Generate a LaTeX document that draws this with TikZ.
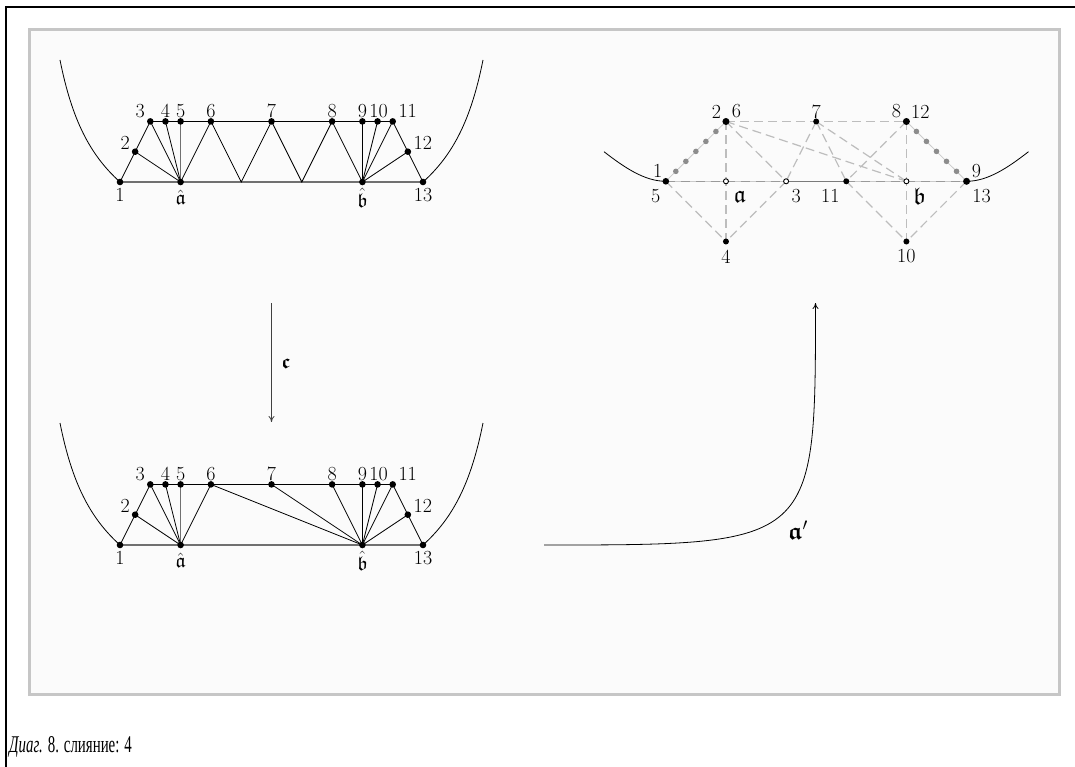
\documentclass[tikz,border=0pt]{standalone}
\usepackage{fontspec}
\usepackage{amssymb}
\usepackage{bm}
\usetikzlibrary{arrows.meta,calc}
\newfontfamily\capfont{Liberation Serif}
\definecolor{boxfill}{HTML}{FBFBFB}
\definecolor{boxgray}{HTML}{C6C6C6}
\definecolor{basegray}{HTML}{707070}
\definecolor{dashgray}{HTML}{BDBDBD}
\definecolor{dotgray}{HTML}{8C8C8C}
\definecolor{lbase}{HTML}{CACACA}
\definecolor{dbase}{HTML}{9A9A9A}
\definecolor{mbase}{HTML}{7A7A7A}
\definecolor{arrgray}{HTML}{404040}
\pgfdeclarelayer{back}
\pgfdeclarelayer{bg}
\pgfsetlayers{back,bg,main}
\newcommand\trussnodes[2]{%
 \begin{scope}[shift={(0,#2)}]
  \node[dot] (#1n1) at (120,182) {};
  \node[dot] (#1n2) at (135.15,151.7) {};
  \node[dot] (#1n3) at (150.3,121.4) {};
  \node[dot] (#1n4) at (165.45,121.4) {};
  \node[dot] (#1n5) at (180.6,121.4) {};
  \node[dot] (#1n6) at (210.9,121.4) {};
  \node[dot] (#1n7) at (271.5,121.4) {};
  \node[dot] (#1n8) at (332.1,121.4) {};
  \node[dot] (#1n9) at (362.4,121.4) {};
  \node[dot] (#1n10) at (377.55,121.4) {};
  \node[dot] (#1n11) at (392.7,121.4) {};
  \node[dot] (#1n12) at (407.85,151.7) {};
  \node[dot] (#1n13) at (423,182) {};
  \node[dot] (#1a) at (180.6,182) {};
  \node[dot] (#1b) at (362.4,182) {};
  \coordinate (#1cl) at (60,60);
  \coordinate (#1cr) at (483,60);
  \node[lab] (#1l1) at ([shift={(0,13)}]#1n1.center) {1};
  \node[lab] (#1l2) at ([shift={(-10,-8.7)}]#1n2.center) {2};
  \node[lab] (#1l3) at ([shift={(-10,-10.5)}]#1n3.center) {3};
  \node[lab] (#1l4) at ([shift={(0,-10.5)}]#1n4.center) {4};
  \node[lab] (#1l5) at ([shift={(0,-10.5)}]#1n5.center) {5};
  \node[lab] (#1l6) at ([shift={(0,-10.5)}]#1n6.center) {6};
  \node[lab] (#1l7) at ([shift={(0,-10.5)}]#1n7.center) {7};
  \node[lab] (#1l8) at ([shift={(0,-10.5)}]#1n8.center) {8};
  \node[lab] (#1l9) at ([shift={(0,-10.5)}]#1n9.center) {9};
  \node[lab] (#1l10) at ([shift={(1,-10.5)}]#1n10.center) {10};
  \node[lab] (#1l11) at ([shift={(15,-10.5)}]#1n11.center) {11};
  \node[lab] (#1l12) at ([shift={(15,-8.7)}]#1n12.center) {12};
  \node[lab] (#1l13) at ([shift={(0,13)}]#1n13.center) {13};
  \node[lab] (#1la) at ([shift={(0,15.5)}]#1a.center) {$\hat{\mathfrak{a}}$};
  \node[lab] (#1lb) at ([shift={(0,15.5)}]#1b.center) {$\hat{\mathfrak{b}}$};
 \end{scope}
 \begin{pgfonlayer}{bg}
  \draw[base] (#1n1.center) -- (#1n13.center);
  \draw[base] (#1n5.center) -- (#1a.center);
  \draw[ln] (#1n1.center) -- (#1n2.center) -- (#1n3.center);
  \draw[ln] (#1n3.center) -- (#1n11.center);
  \draw[ln] (#1n2.center) -- (#1a.center);
  \draw[ln] (#1n3.center) -- (#1a.center);
  \draw[ln] (#1n4.center) -- (#1a.center);
  \draw[ln] (#1n6.center) -- (#1a.center);
  \draw[ln] (#1n8.center) -- (#1b.center);
  \draw[ln] (#1n9.center) -- (#1b.center);
  \draw[ln] (#1n10.center) -- (#1b.center);
  \draw[ln] (#1n11.center) -- (#1b.center);
  \draw[ln] (#1n12.center) -- (#1b.center);
  \draw[ln] (#1n11.center) -- (#1n12.center) -- (#1n13.center);
  \draw[ln] (#1cl) .. controls ($(#1cl)+(12,60)$) and ($(#1cl)+(30,95)$) .. (#1n1.center);
  \draw[ln] (#1cr) .. controls ($(#1cr)+(-12,60)$) and ($(#1cr)+(-30,95)$) .. (#1n13.center);
 \end{pgfonlayer}}
\begin{document}
\begin{tikzpicture}[x=1pt,y=-1pt,
  dot/.style={circle,fill=black,inner sep=0pt,minimum size=6.6pt},
  rdot/.style={circle,draw=black,fill=white,line width=0.9pt,inner sep=0pt,minimum size=5pt},
  lab/.style={inner sep=0pt,font=\fontsize{20}{24}\selectfont},
  biglab/.style={inner sep=0pt,font=\fontsize{24}{28}\selectfont},
  ln/.style={line width=0.8pt,black},
  base/.style={line width=1.5pt,color=basegray},
  dsh/.style={line width=1.2pt,color=dashgray,dash pattern=on 9pt off 5pt},
  arr/.style={line width=0.8pt,color=arrgray,-{To[length=6pt,width=6pt]}}
]
\path[use as bounding box] (0,0) rectangle (1075,767);
\begin{pgfonlayer}{back}
  \fill[white] (0,0) rectangle (1075,767);
  \fill[boxfill] (29.5,29.5) rectangle (1059.5,694.5);
  \draw[boxgray,line width=2.5pt] (29.5,29.5) rectangle (1059.5,694.5);
  \draw[black,line width=2pt] (6,767) -- (6,7) -- (1075,7);
\end{pgfonlayer}

% top-left truss
\trussnodes{t}{0}
\coordinate (tz1) at (241.2,182);
\coordinate (tz2) at (301.8,182);
\begin{pgfonlayer}{bg}
  \draw[ln] (tn6.center) -- (tz1) -- (tn7.center) -- (tz2) -- (tn8.center);
\end{pgfonlayer}

% bottom-left truss
\trussnodes{u}{363}
\begin{pgfonlayer}{bg}
  \draw[ln] (un6.center) -- (ub.center);
  \draw[ln] (un7.center) -- (ub.center);
\end{pgfonlayer}

% arrow c
\coordinate (c1) at (271.5,303);
\coordinate (c2) at (271.5,422);
\draw[arr] (c1) -- (c2);
\node[lab] (lc) at (286,364) {$\bm{\mathfrak{c}}$};

% arrow a'
\coordinate (d1) at (544,545);
\coordinate (d2) at (815.5,303);
\draw[arr,color=black] (d1) .. controls (815.5,545) and (815.5,545) .. (d2);
\node[biglab] (ld) at (798,530) {$\bm{\mathfrak{a}}'$};

% top-right diagram
\node[dot] (p15) at (665.8,181.3) {};
\node[dot,minimum size=7pt] (p26) at (725.95,121.5) {};
\node[dot,minimum size=6pt] (p7) at (816.2,121.5) {};
\node[dot,minimum size=7pt] (p812) at (906.4,121.5) {};
\node[rdot] (pa) at (725.95,181.3) {};
\node[rdot] (p3) at (786.1,181.3) {};
\node[dot,minimum size=6pt] (p11) at (846.25,181.3) {};
\node[rdot] (pb) at (906.4,181.3) {};
\node[dot,minimum size=7pt] (p913) at (966.55,181.3) {};
\node[dot,minimum size=6pt] (p4) at (725.95,241.5) {};
\node[dot,minimum size=6pt] (p10) at (906.4,241.5) {};
\coordinate (pcl) at (604,151.7);
\coordinate (pcr) at (1028.5,151.7);

\begin{pgfonlayer}{bg}
  % baseline
  \draw[line width=1.5pt,lbase] (p15.center) -- (p913.center);
  \draw[line width=1.5pt,dbase,dash pattern=on 9pt off 6pt] (p15.center) -- (pa.center) -- (p3.center);
  \draw[line width=1.5pt,dbase,dash pattern=on 9pt off 6pt] (p11.center) -- (pb.center) -- (p913.center);
  \draw[line width=1.5pt,mbase] (p3.center) -- (p11.center);
  % dashed edges
  \draw[dsh] (p26.center) -- (p7.center) -- (p812.center);
  \draw[dsh] (p26.center) -- (pa.center) -- (p4.center);
  \draw[dsh] (p26.center) -- (p3.center);
  \draw[dsh] (p26.center) -- (pb.center);
  \draw[dsh] (p7.center) -- (p3.center);
  \draw[dsh] (p7.center) -- (p11.center);
  \draw[dsh] (p7.center) -- (pb.center);
  \draw[dsh] (p812.center) -- (pb.center) -- (p10.center);
  \draw[dsh] (p812.center) -- (p11.center);
  \draw[dsh] (p11.center) -- (p10.center);
  \draw[dsh] (p913.center) -- (p10.center);
  \draw[dsh] (p15.center) -- (p4.center);
  \draw[dsh] (p3.center) -- (p4.center);
  % dotted edges
  \draw[line width=0.8pt,lbase] (p15.center) -- (p26.center);
  \draw[line width=0.8pt,lbase] (p812.center) -- (p913.center);
  \foreach \t in {1,...,5} {
    \fill[dotgray] ($(p15.center)!\t/6!(p26.center)$) circle (2.8pt);
    \fill[dotgray] ($(p812.center)!\t/6!(p913.center)$) circle (2.8pt);
  }
  % curves
  \draw[ln] (pcl) .. controls (625,168) and (645,181.3) .. (p15.center);
  \draw[ln] (pcr) .. controls (1007.5,168) and (987.5,181.3) .. (p913.center);
\end{pgfonlayer}

\node[lab] (q1) at ([shift={(-8,-10)}]p15.center) {1};
\node[lab] (q5) at ([shift={(-10,15)}]p15.center) {5};
\node[lab] (q2) at ([shift={(-9.5,-10)}]p26.center) {2};
\node[lab] (q6) at ([shift={(10.5,-10)}]p26.center) {6};
\node[lab] (q7) at ([shift={(0,-10)}]p7.center) {7};
\node[lab] (q8) at ([shift={(-10,-10)}]p812.center) {8};
\node[lab] (q12) at ([shift={(14,-10)}]p812.center) {12};
\node[lab] (q9) at ([shift={(10,-10)}]p913.center) {9};
\node[lab] (q13) at ([shift={(15,15)}]p913.center) {13};
\node[biglab] (qa) at ([shift={(14,15)}]pa.center) {$\mathfrak{a}$};
\node[lab] (q3) at ([shift={(10,15)}]p3.center) {3};
\node[lab] (q11) at ([shift={(-16,15)}]p11.center) {11};
\node[biglab] (qb) at ([shift={(13,15)}]pb.center) {$\mathfrak{b}$};
\node[lab] (q4) at ([shift={(0,15)}]p4.center) {4};
\node[lab] (q10) at ([shift={(0,15)}]p10.center) {10};

% caption
\node[anchor=base west,inner sep=0pt] (cap) at (9,752) {\scalebox{0.62}[1]{\capfont\fontsize{24}{28}\selectfont\textit{Диаг.} 8. слияние: 4}};
\end{tikzpicture}
\end{document}
